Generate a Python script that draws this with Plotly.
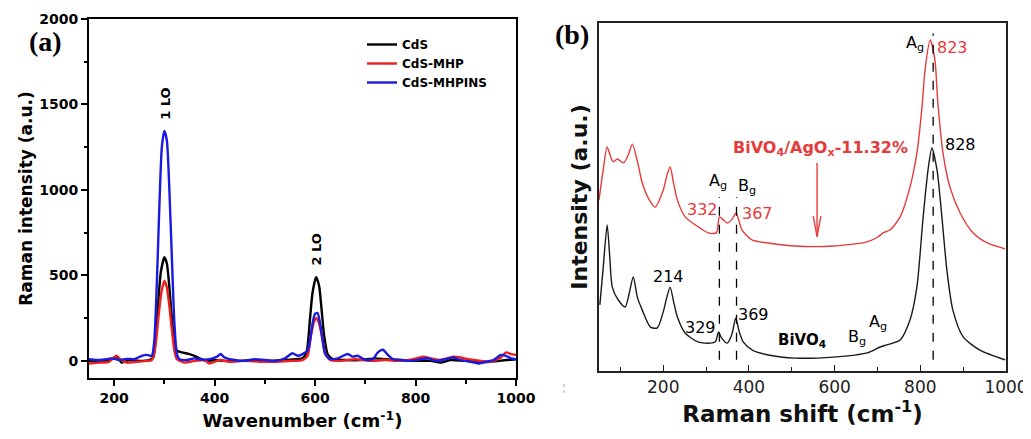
import plotly.graph_objects as go

# ---------------- Panel (a) data ----------------
a_cds_x = [150,170,190,205,215,230,250,270,278,283,288,293,300,305,310,315,320,325,335,350,360,370,385,400,420,450,480,510,540,560,575,583,590,595,602,608,613,618,625,635,660,690,720,740,770,800,830,850,870,900,920,950,980,1000]
a_cds_y = [0,-5,5,25,-10,5,0,5,20,150,350,520,606,570,430,250,110,60,50,40,30,15,0,5,0,0,5,0,5,10,15,50,250,400,489,440,300,150,40,10,5,5,15,10,5,0,0,-10,5,0,-5,-5,5,10]

a_mhp_x = [150,170,190,205,212,225,245,265,275,282,288,294,300,305,310,315,320,325,340,360,380,390,410,430,460,490,520,550,575,585,592,598,603,608,614,620,630,650,680,710,740,770,795,815,830,850,875,890,905,930,950,970,980,990,1000]
a_mhp_y = [-15,-10,-5,30,10,-10,-5,0,5,80,250,400,468,430,320,180,60,10,-10,0,5,-15,5,-5,0,-5,-5,0,5,30,150,230,250,220,140,50,5,0,10,0,5,0,10,25,15,5,25,20,10,0,-5,20,50,40,35]

a_ins_x = [150,165,180,195,210,225,240,255,265,275,280,285,290,295,300,305,310,315,320,325,330,345,360,375,390,405,412,420,440,460,480,500,520,540,555,565,575,585,590,595,600,605,610,615,620,630,645,665,675,685,700,715,725,735,745,755,770,790,810,825,840,860,875,890,910,925,940,955,970,980,990,1000]
a_ins_y = [10,5,8,15,5,12,10,30,35,30,120,450,900,1250,1345,1290,1000,600,220,40,10,5,15,8,10,25,40,20,5,0,10,5,0,15,45,30,40,60,120,220,275,280,220,120,40,10,15,40,25,30,5,10,50,65,35,10,5,0,10,15,0,10,20,5,-5,-15,-5,5,35,30,15,10]

a_x_ticks = [200, 400, 600, 800, 1000]
a_y_ticks = [0, 500, 1000, 1500, 2000]

# ---------------- Panel (b) data (intensity in arbitrary units) ----------------
b_bivo4_x = [52,60,69,75,81,95,111,120,130,140,151,170,186,200,208,216,224,233,251,282,310,322,329,336,349,360,369,378,387,408,445,508,597,676,706,722,753,776,792,806,818,827,839,851,862,876,900,939,998]
b_bivo4_y = [19,30,42,33,24.1,20.4,18.4,22,27,21,17.5,12.6,12.4,17,21,24.1,20,15.5,10.9,8.3,8.0,8.5,11.2,9.5,8.0,10.5,15.2,11,8.3,6.0,4.6,3.7,4.0,5.2,6.9,7.5,8.9,14.7,24.1,43.4,57.8,64.1,57.8,43.4,29.0,17.5,9.8,6.0,3.2]

b_ago_x = [50,60,69,76,83,93,107,118,128,140,151,165,181,200,208,216,224,233,251,282,305,324,331,340,349,360,370,377,384,408,445,508,597,676,701,713,729,753,776,792,804,811,823,834,841,853,869,893,923,956,998]
b_ago_y = [49.1,58,64.4,62,60.1,60.9,59.8,62,65.2,60,54.0,49.7,47.1,52,56,58.6,54,49.1,44.3,41.4,39.7,39.7,44.3,43.5,42.5,43.5,45.4,43,40.5,37.6,36.8,35.9,35.9,37.1,38.5,39.7,40.5,44.3,52.9,62.6,75.9,86.5,95.1,89.4,77.0,62.6,52.9,45.4,39.7,36.8,35.1]

b_x_ticks = [200, 400, 600, 800, 1000]
b_dashed_x = [331, 371, 830]
b_dashed_top = [50, 50, 97]

FONT = "DejaVu Sans"
RED_A = "#f01e1e"
BLUE_A = "#1a1ae0"
RED_B = "#e53b3b"
BLACK_B = "#1a1a1a"

W, H = 1031, 439
OFF = 8  # page body margin offset


def PX(px):
    return (px - OFF) / W


def PY(py):
    return 1 - (py - OFF) / H


fig = go.Figure()

fig.add_trace(go.Scatter(x=a_cds_x, y=a_cds_y, mode="lines", name="CdS",
                         line=dict(color="black", width=2.4, shape="spline", smoothing=0.6),
                         xaxis="x", yaxis="y"))
fig.add_trace(go.Scatter(x=a_mhp_x, y=a_mhp_y, mode="lines", name="CdS-MHP",
                         line=dict(color=RED_A, width=2.4, shape="spline", smoothing=0.6),
                         xaxis="x", yaxis="y"))
fig.add_trace(go.Scatter(x=a_ins_x, y=a_ins_y, mode="lines", name="CdS-MHPINS",
                         line=dict(color=BLUE_A, width=2.4, shape="spline", smoothing=0.6),
                         xaxis="x", yaxis="y"))

fig.add_trace(go.Scatter(x=b_ago_x, y=b_ago_y, mode="lines", showlegend=False,
                         line=dict(color=RED_B, width=1.4, shape="spline", smoothing=0.7),
                         xaxis="x2", yaxis="y2"))
fig.add_trace(go.Scatter(x=b_bivo4_x, y=b_bivo4_y, mode="lines", showlegend=False,
                         line=dict(color=BLACK_B, width=1.4, shape="spline", smoothing=0.7),
                         xaxis="x2", yaxis="y2"))

shapes = []
for xv, top in zip(b_dashed_x, b_dashed_top):
    shapes.append(dict(type="line", xref="x2", yref="y2", x0=xv, x1=xv, y0=3.2, y1=top,
                       line=dict(color="black", width=1.3, dash="dash")))
# red arrow
shapes.append(dict(type="line", xref="x2", yref="y2", x0=559, x1=559, y0=59.8, y1=38.6,
                   line=dict(color=RED_B, width=1.4)))
shapes.append(dict(type="path", xref="x2", yref="y2",
                   path="M 550,44.5 L 559,38.6 L 568,44.5",
                   line=dict(color=RED_B, width=1.4)))
# small scan artefact
shapes.append(dict(type="line", xref="paper", yref="paper", x0=PX(564), x1=PX(564),
                   y0=PY(393), y1=PY(381), line=dict(color="#aaaaaa", width=1, dash="dot")))


def ann(text, x, y, color="black", size=16, bold=False, xref="x2", yref="y2", **kw):
    d = dict(text=text, x=x, y=y, xref=xref, yref=yref, showarrow=False,
             xanchor="center", yanchor="middle",
             font=dict(family=FONT, size=size, color=color, weight="bold" if bold else "normal"))
    d.update(kw)
    return d


annotations = [
    dict(text="<b>(a)</b>", x=PX(45), y=PY(41), xref="paper", yref="paper", showarrow=False,
         xanchor="center", yanchor="middle",
         font=dict(family="Liberation Serif", size=28, color="black")),
    dict(text="<b>(b)</b>", x=PX(572), y=PY(34), xref="paper", yref="paper", showarrow=False,
         xanchor="center", yanchor="middle",
         font=dict(family="Liberation Serif", size=28, color="black")),
    ann("1 LO", 303, 1503, size=13, bold=True, xref="x", yref="y", textangle=-90),
    ann("2 LO", 603, 649, size=13, bold=True, xref="x", yref="y", textangle=-90),
    ann("A<sub>g</sub>", 788, 94, size=16),
    ann("823", 874, 93, color=RED_B, size=16),
    ann("828", 893, 65, size=16),
    ann("<b>BiVO<sub>4</sub>/AgO<sub>x</sub>-11.32%</b>", 566, 64, color=RED_B, size=16),
    ann("A<sub>g</sub>", 327, 54.5, size=16),
    ann("B<sub>g</sub>", 396, 53, size=16),
    ann("332", 291, 46.3, color=RED_B, size=16),
    ann("367", 419, 45.4, color=RED_B, size=16),
    ann("214", 212, 27.3, size=16),
    ann("329", 286, 12.6, size=16),
    ann("369", 410, 16.1, size=16),
    ann("<b>BiVO<sub>4</sub></b>", 524, 8.9, size=15),
    ann("B<sub>g</sub>", 652, 9.5, size=16),
    ann("A<sub>g</sub>", 701, 13.8, size=16),
]

axis_a = dict(showline=True, linecolor="black", linewidth=2, mirror=True, showgrid=False,
              zeroline=False, ticks="outside", tickcolor="black", tickwidth=1.5, ticklen=6,
              automargin=False)

fig.update_layout(
    width=W, height=H,
    margin=dict(l=0, r=0, t=0, b=0, autoexpand=False),
    paper_bgcolor="white", plot_bgcolor="white",
    font=dict(family=FONT, color="black"),
    xaxis=dict(domain=[PX(89), PX(516)], range=[150, 1000], tickvals=a_x_ticks,
               minor=dict(dtick=100, ticks="outside", ticklen=3.5, tickcolor="black", tickwidth=1.5),
               tickfont=dict(family=FONT, size=14, weight="bold"),
               title=dict(text="Wavenumber (cm<sup>-1</sup>)", standoff=10,
                          font=dict(family=FONT, size=18, weight="bold")),
               anchor="y", **axis_a),
    yaxis=dict(domain=[PY(378), PY(19)], range=[-100, 2000], tickvals=a_y_ticks,
               minor=dict(dtick=250, ticks="outside", ticklen=3.5, tickcolor="black", tickwidth=1.5),
               tickfont=dict(family=FONT, size=14, weight="bold"),
               title=dict(text="Raman intensity (a.u.)", standoff=2,
                          font=dict(family=FONT, size=17, weight="bold")),
               anchor="x", **axis_a),
    xaxis2=dict(domain=[PX(599), PX(1006)], range=[50, 1000], tickvals=b_x_ticks,
                showline=True, linecolor="#222", linewidth=1.6, mirror=True, showgrid=False,
                zeroline=False, ticks="inside", tickcolor="#222", tickwidth=1.2, ticklen=6,
                minor=dict(dtick=100, ticks="inside", ticklen=4, tickcolor="#222", tickwidth=1.2),
                tickfont=dict(family=FONT, size=17, color="#222"),
                title=dict(text="Raman shift (cm<sup>-1</sup>)", standoff=2,
                           font=dict(family=FONT, size=23, weight="bold", color="#111")),
                anchor="y2", automargin=False),
    yaxis2=dict(domain=[PY(371), PY(23)], range=[0, 100],
                showline=True, linecolor="#222", linewidth=1.6, mirror=True, showgrid=False,
                zeroline=False, ticks="", showticklabels=False,
                title=dict(text="Intensity (a.u.)", standoff=4,
                           font=dict(family=FONT, size=22, weight="bold", color="#111")),
                anchor="x2", automargin=False),
    legend=dict(x=PX(362), y=PY(30), xanchor="left", yanchor="top",
                bgcolor="rgba(0,0,0,0)", borderwidth=0,
                font=dict(family=FONT, size=12, weight="bold", color="black"),
                tracegroupgap=0),
    shapes=shapes,
    annotations=annotations,
)

fig.write_html("out.html")
